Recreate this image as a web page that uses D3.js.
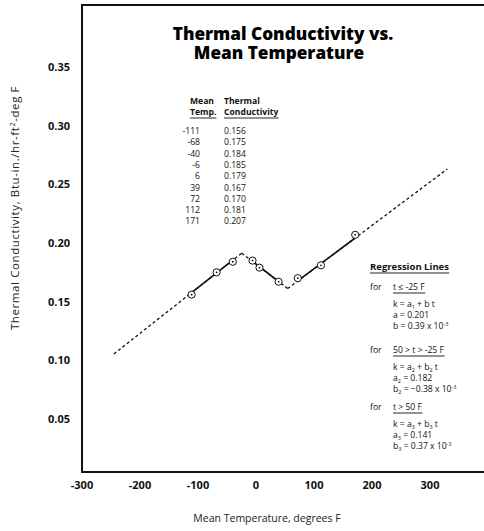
<!DOCTYPE html>
<html>
<head>
<meta charset="utf-8">
<script src="https://cdnjs.cloudflare.com/ajax/libs/d3/7.8.5/d3.min.js"></script>
<style>
  body { margin: 0; background: #fff; }
  svg { display: block; }
  .tick-lbl { font-family: "Open Sans", sans-serif; font-weight: 700; font-size: 11px; fill: #111; }
  .small { font-family: "Open Sans", sans-serif; font-size: 8.6px; fill: #111; }
</style>
</head>
<body>
<script>
// measured points
var meanTemp = [-111, -68, -40, -6, 6, 39, 72, 112, 171];
var conductivity = [0.156, 0.175, 0.184, 0.185, 0.179, 0.167, 0.170, 0.181, 0.207];

// regression lines k = a + b t
var regA = [0.201, 0.182, 0.141];
var regB = [0.00039, -0.00038, 0.00037];
var outerStart = -245;
var outerEnd = 330;
// solid part of each line (range of the data it was fitted to)
var solidFrom = [-111, -6, 72];
var solidTo = [-40, 39, 171];

var xTicks = [-300, -200, -100, 0, 100, 200, 300];
var yTicks = [0.05, 0.10, 0.15, 0.20, 0.25, 0.30, 0.35];

var W = 484, H = 531;

var svg = d3.select("body").append("svg")
    .attr("width", W)
    .attr("height", H);

var x = d3.scaleLinear().domain([-300, 300]).range([82, 430]);
var y = d3.scaleLinear().domain([0.05, 0.35]).range([419, 67]);

// frame (left, top, bottom - the right side runs off the page)
svg.append("path")
    .attr("d", "M" + (W + 2) + ",5 H82 V472 H" + (W + 2))
    .attr("fill", "none")
    .attr("stroke", "#111")
    .attr("stroke-width", 2);

// tick labels
svg.selectAll(".xl").data(xTicks).enter().append("text")
    .attr("class", "tick-lbl")
    .attr("x", function(d) { return x(d); })
    .attr("y", 489)
    .attr("text-anchor", "middle")
    .text(function(d) { return d; });

svg.selectAll(".yl").data(yTicks).enter().append("text")
    .attr("class", "tick-lbl")
    .attr("x", 70)
    .attr("y", function(d) { return y(d) + 4; })
    .attr("text-anchor", "end")
    .text(function(d) { return d3.format(".2f")(d); });

// axis titles
svg.append("text")
    .attr("x", 267).attr("y", 522)
    .attr("text-anchor", "middle")
    .style("font-family", "Open Sans, sans-serif")
    .style("font-size", "10.5px")
    .style("fill", "#222")
    .text("Mean Temperature, degrees F");

var yt = svg.append("text")
    .attr("transform", "translate(19,208) rotate(-90)")
    .attr("text-anchor", "middle")
    .style("font-family", "Open Sans, sans-serif")
    .style("font-size", "11.5px")
    .style("letter-spacing", "0.6px")
    .style("fill", "#222");
yt.append("tspan").text("Thermal Conductivity, Btu-in./hr-ft");
yt.append("tspan").attr("dy", -4).style("font-size", "7px").text("2");
yt.append("tspan").attr("dy", 4).text("-deg F");

// title, one text with two lines
var title = svg.append("text")
    .attr("text-anchor", "middle")
    .style("font-family", "Open Sans, sans-serif")
    .style("font-weight", 800)
    .style("font-size", "17.2px")
    .style("fill", "#000");
title.append("tspan").attr("x", 283).attr("y", 40).text("Thermal Conductivity vs.");
title.append("tspan").attr("x", 279).attr("y", 58.5).text("Mean Temperature");

// regression lines
var bounds = [outerStart];
for (var i = 0; i < regA.length - 1; i++) {
    bounds.push((regA[i] - regA[i + 1]) / (regB[i + 1] - regB[i]));
}
bounds.push(outerEnd);

var lineGen = d3.line()
    .x(function(d) { return x(d[0]); })
    .y(function(d) { return y(d[1]); });

var lines = svg.append("g");
regA.forEach(function(a, i) {
    var b = regB[i];
    var f = function(t) { return [t, a + b * t]; };
    lines.append("path")
        .attr("d", lineGen([f(bounds[i]), f(bounds[i + 1])]))
        .attr("fill", "none")
        .attr("stroke", "#111")
        .attr("stroke-width", 1.3)
        .attr("stroke-dasharray", "3,2.5");
    lines.append("path")
        .attr("d", lineGen([f(solidFrom[i]), f(solidTo[i])]))
        .attr("fill", "none")
        .attr("stroke", "#111")
        .attr("stroke-width", 1.6);
});

// data points
var pts = svg.append("g").selectAll("g").data(meanTemp).enter().append("g")
    .attr("transform", function(d, i) { return "translate(" + x(d) + "," + y(conductivity[i]) + ")"; });
pts.append("circle").attr("r", 3.6).attr("fill", "#fff").attr("stroke", "#111").attr("stroke-width", 1);
pts.append("circle").attr("r", 0.9).attr("fill", "#111");

// helper for underlined text
function underline(sel, dy) {
    sel.each(function() {
        var n = this;
        var bb = n.getBBox();
        svg.append("line")
            .attr("x1", bb.x).attr("x2", bb.x + bb.width)
            .attr("y1", +d3.select(n).attr("y") + dy)
            .attr("y2", +d3.select(n).attr("y") + dy)
            .attr("stroke", "#111").attr("stroke-width", 0.9);
    });
}

// data table
var tbl = svg.append("g");
tbl.append("text").attr("class", "small").attr("x", 190).attr("y", 104)
    .style("font-weight", 700).text("Mean");
underline(tbl.append("text").attr("class", "small").attr("x", 190).attr("y", 115)
    .style("font-weight", 700).text("Temp."), 3);
tbl.append("text").attr("class", "small").attr("x", 224).attr("y", 104)
    .style("font-weight", 700).text("Thermal");
underline(tbl.append("text").attr("class", "small").attr("x", 224).attr("y", 115)
    .style("font-weight", 700).text("Conductivity"), 3);

tbl.selectAll(".tt").data(meanTemp).enter().append("text")
    .attr("class", "small")
    .attr("x", 200)
    .attr("y", function(d, i) { return 134 + i * 11.3; })
    .attr("text-anchor", "end")
    .text(function(d) { return d; });
tbl.selectAll(".tk").data(conductivity).enter().append("text")
    .attr("class", "small")
    .attr("x", 224)
    .attr("y", function(d, i) { return 134 + i * 11.3; })
    .text(function(d) { return d3.format(".3f")(d); });

// regression legend
var leg = svg.append("g");
underline(leg.append("text").attr("class", "small").attr("x", 370).attr("y", 270)
    .style("font-weight", 700).style("font-size", "9.5px").text("Regression Lines"), 3);

var conds = ["t \u2264 -25 F", "50 > t > -25 F", "t > 50 F"];
var subs = ["1", "2", "3"];
var groupY = [290, 353, 410];
regA.forEach(function(a, i) {
    var gy = groupY[i];
    var s = subs[i];
    leg.append("text").attr("class", "small").attr("x", 370).attr("y", gy).text("for");
    underline(leg.append("text").attr("class", "small").attr("x", 393).attr("y", gy).text(conds[i]), 3);

    // the three formula lines of a group share one text element
    var blk = leg.append("text").attr("class", "small");

    blk.append("tspan").attr("x", 393).attr("y", gy + 17).text("k  =  a");
    blk.append("tspan").attr("dy", 1.5).style("font-size", "5.5px").text(s);
    blk.append("tspan").attr("dy", -1.5).text(i === 0 ? " + b t" : " + b");
    if (i > 0) {
        blk.append("tspan").attr("dy", 1.5).style("font-size", "5.5px").text(s);
        blk.append("tspan").attr("dy", -1.5).text(" t");
    }

    blk.append("tspan").attr("x", 393).attr("y", gy + 28).text("a");
    if (i > 0) {
        blk.append("tspan").attr("dy", 1.5).style("font-size", "5.5px").text(s);
        blk.append("tspan").attr("dy", -1.5).text(" =  " + d3.format(".3f")(a));
    } else {
        blk.append("tspan").text(" =  " + d3.format(".3f")(a));
    }

    blk.append("tspan").attr("x", 393).attr("y", gy + 39).text("b");
    if (i > 0) {
        blk.append("tspan").attr("dy", 1.5).style("font-size", "5.5px").text(s);
        blk.append("tspan").attr("dy", -1.5).text(" =  " + d3.format(".2f")(regB[i] * 1000) + " x 10");
    } else {
        blk.append("tspan").text(" =  " + d3.format(".2f")(regB[i] * 1000) + " x 10");
    }
    blk.append("tspan").attr("dy", -3.5).style("font-size", "5.5px").text("-3");
});
</script>
</body>
</html>
